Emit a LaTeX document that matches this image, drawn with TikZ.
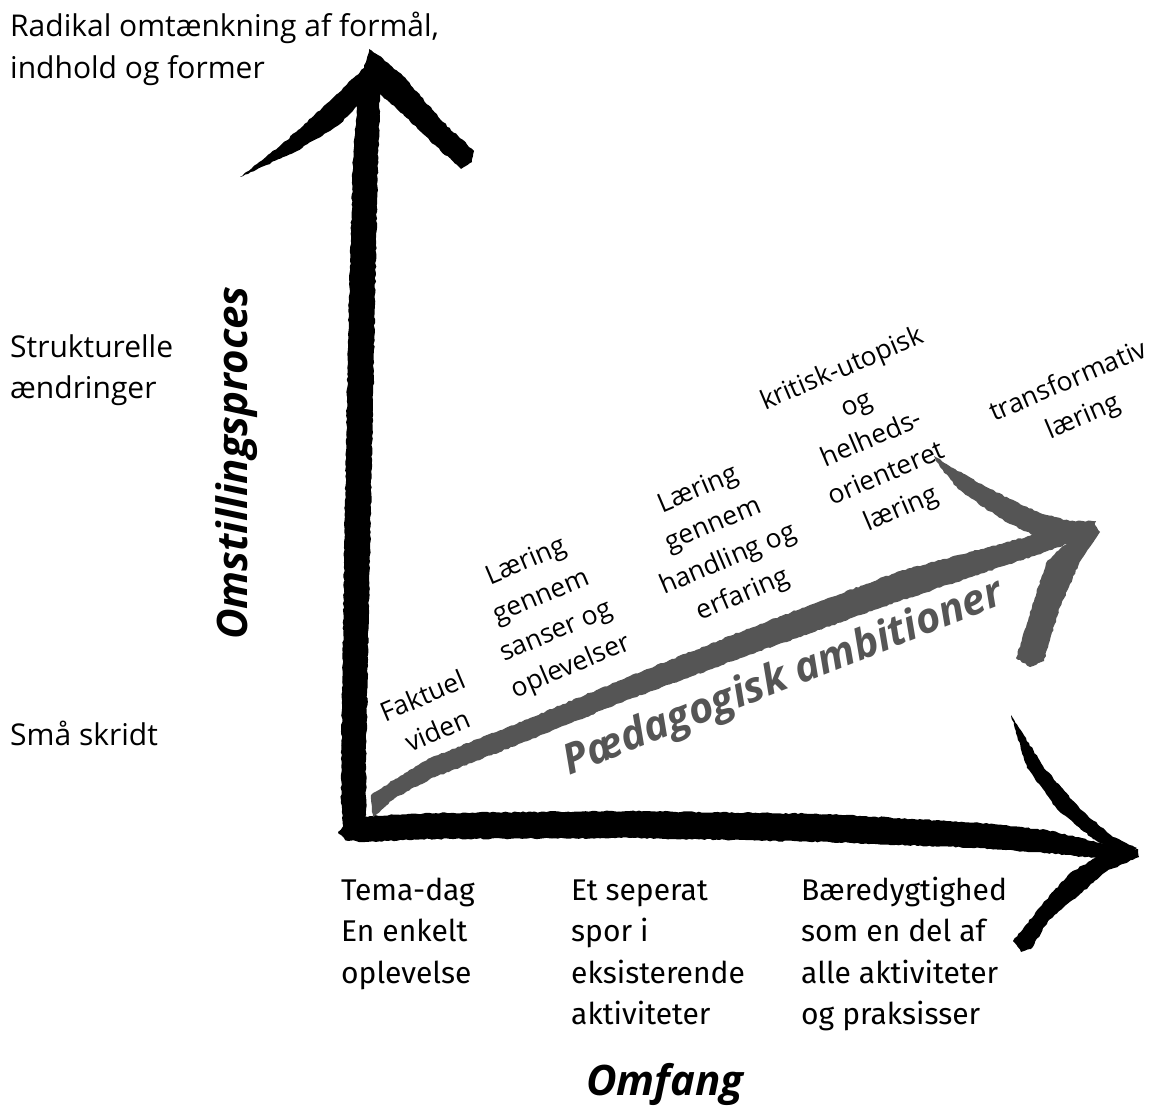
\documentclass[tikz,border=0pt]{standalone}
\usepackage{fontspec}
\setmainfont{Open Sans}
\newfontfamily\tickfont{Fira Sans}
\usetikzlibrary{decorations.pathmorphing}
\definecolor{inkgray}{HTML}{555555}
\newcommand{\leftlines}[1]{\begin{tabular}[t]{@{}l@{}}#1\end{tabular}}
\tikzset{
  brush/.style={fill=#1, draw=none, decorate,
    decoration={random steps, segment length=3pt, amplitude=0.7pt}},
  axislabel/.style={inner sep=0pt, anchor=base west, font=\fontsize{30}{41.5}\selectfont},
  ticklabel/.style={inner sep=0pt, anchor=base west, font=\tickfont\fontsize{30}{41.5}\selectfont},
  steplabel/.style={inner sep=0pt, align=center, rotate=23, font=\fontsize{26.5}{38}\selectfont},
  axistitle/.style={inner sep=0pt, font=\bfseries\itshape\fontsize{42}{48}\selectfont}
}
\begin{document}
\begin{tikzpicture}[x=1pt, y=-1pt]
\pgfmathsetseed{7}
\fill[white] (0,0) rectangle (1164,1107);
\useasboundingbox (0,0) rectangle (1164,1107);

% vertical axis with arrowhead
\fill[brush=black] (369,49) -- (378,55) -- (403,76) -- (443,122) -- (474,151) -- (472,162) -- (461,169)
  -- (430,141) -- (403,114) -- (380,94) -- (377,200) -- (373,400) -- (369,600) -- (366,760)
  -- (366,815) -- (358,836) -- (344,836) -- (341,800) -- (342,700) -- (345,500) -- (349,300)
  -- (353,160) -- (357,106) -- (340,124) -- (297,151) -- (240,177) -- (280,146) -- (330,101)
  -- (364,68) -- cycle;

% horizontal axis
\fill[brush=black] (350,818) -- (370,816) -- (430,813) -- (630,811) -- (830,814) -- (980,823)
  -- (1047,830) -- (1110,845) -- (1135,851) -- (1128,859) -- (1097,858) -- (1047,853)
  -- (980,848) -- (830,842) -- (630,838) -- (430,839) -- (365,842) -- (345,840) -- (338,832) -- cycle;
\fill[brush=black] (1011,715) -- (1043,766) -- (1080,809) -- (1113,837) -- (1137,848) -- (1130,856)
  -- (1093,839) -- (1057,809) -- (1027,768) -- cycle;
\fill[brush=black] (1122,848) -- (1138,849) -- (1139,857) -- (1107,871) -- (1080,894) -- (1048,921)
  -- (1031,949) -- (1021,952) -- (1013,941) -- (1040,907) -- (1070,873) -- (1097,857) -- cycle;

% grey arrow
\fill[brush=inkgray] (371,795) -- (395,779) -- (430,758) -- (530,718) -- (630,676) -- (760,624)
  -- (900,571) -- (1040,533) -- (1094,522) -- (1098,531) -- (1060,547) -- (900,601) -- (760,651)
  -- (630,699) -- (530,740) -- (430,779) -- (395,798) -- (373,817) -- cycle;
\fill[brush=inkgray] (934,456) -- (955,469) -- (983,485) -- (1010,499) -- (1040,513) -- (1070,521)
  -- (1096,521) -- (1090,531) -- (1040,538) -- (1010,524) -- (983,507) -- (958,489) -- (940,467) -- cycle;
\fill[brush=inkgray] (1063,546) -- (1094,522) -- (1100,532) -- (1081,560) -- (1060,607) -- (1044,661)
  -- (1030,667) -- (1016,658) -- (1032,607) -- (1046,563) -- cycle;

% vertical axis labels
\node[axislabel] (radikal) at (10,37) {\leftlines{Radikal omtænkning af formål,\\indhold og former}};
\node[axislabel] (struktur) at (10,357) {\leftlines{Strukturelle\\ændringer}};
\node[axislabel] (smaa) at (10,745) {Små skridt};

% horizontal axis labels
\node[ticklabel] (tema) at (341,900) {\leftlines{Tema-dag\\En enkelt\\oplevelse}};
\node[ticklabel] (spor) at (571,900) {\leftlines{Et seperat\\spor i\\eksisterende\\aktiviteter}};
\node[ticklabel] (baer) at (801,900) {\leftlines{Bæredygtighed\\som en del af\\alle aktiviteter\\og praksisser}};

% pedagogical steps
\node[steplabel] (faktuel) at (430,713) {Faktuel\\viden};
\node[steplabel] (sanser) at (549,615) {Læring\\gennem\\sanser og\\oplevelser};
\node[steplabel] (handling) at (721,543) {Læring\\gennem\\handling og\\erfaring};
\node[steplabel] (kritisk) at (872,440) {kritisk-utopisk\\og\\helheds-\\orienteret\\læring};
\node[steplabel] (transf) at (1076,400) {transformativ\\læring};

% axis titles
\node[axistitle, rotate=90] (omst) at (237,463) {Omstillingsproces};
\node[axistitle, text=inkgray, rotate=21.5] (paed) at (784,679) {Pædagogisk ambitioner};
\node[axistitle] (omfang) at (665,1084) {Omfang};
\end{tikzpicture}
\end{document}
